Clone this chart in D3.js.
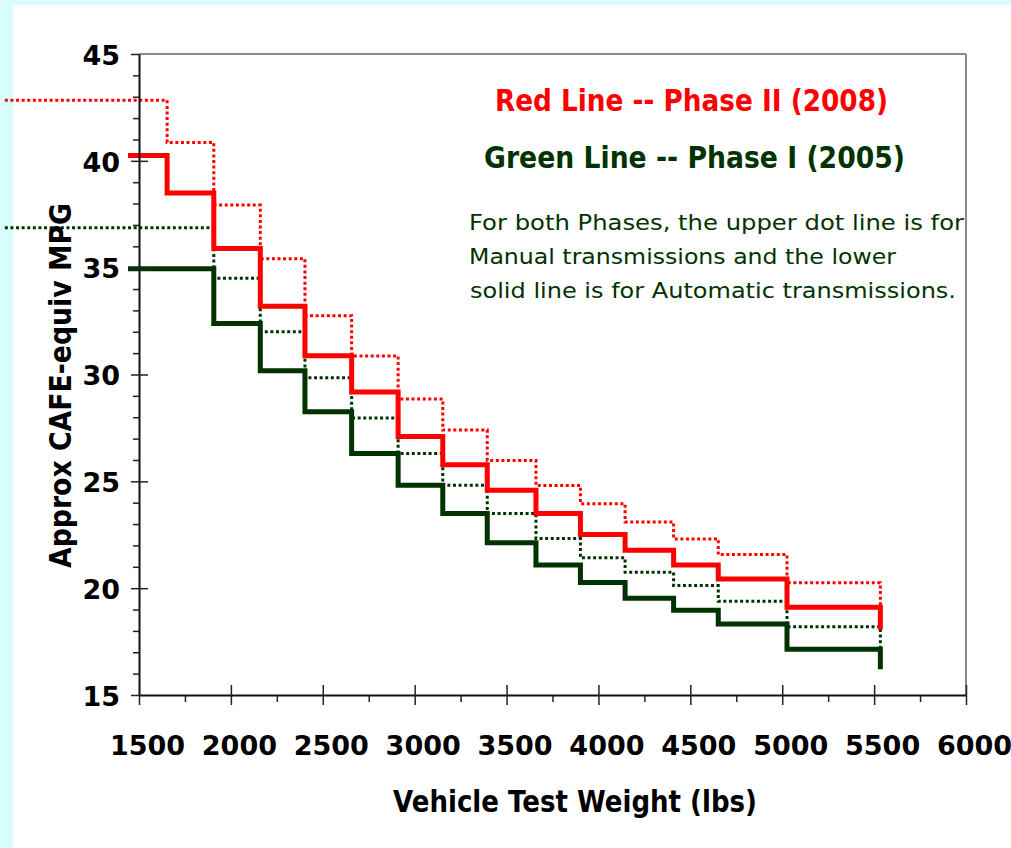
<!DOCTYPE html>
<html><head><meta charset="utf-8">
<script src="https://cdn.jsdelivr.net/npm/d3@7"></script>
<style>body{margin:0;background:#fff}svg{display:block}</style>
</head><body><svg id="c" width="1011" height="848"></svg>
<script>
// ---- data ----
const stepWeights = [1653, 1907, 2160, 2403, 2657, 2910, 3153, 3395, 3660, 3902, 4145, 4409, 4652, 5026, 5534];
const manualStart = 770;   // dotted lines begin left of the axis
const autoStart = 1440;    // solid lines begin just left of the axis
const phase2Manual = [42.84, 40.86, 37.93, 35.42, 32.75, 30.87, 28.85, 27.40, 25.98, 24.80, 23.95, 23.10, 22.30, 21.57, 20.25, 19.10];
const phase2Auto   = [40.25, 38.50, 35.90, 33.20, 30.88, 29.18, 27.10, 25.78, 24.58, 23.50, 22.51, 21.77, 21.08, 20.43, 19.11, 18.07];
const phase1Manual = [36.87, 36.87, 34.50, 32.00, 29.85, 27.96, 26.30, 24.82, 23.50, 22.32, 21.42, 20.75, 20.12, 19.39, 18.20, 17.15];
const phase1Auto   = [34.95, 34.95, 32.39, 30.18, 28.26, 26.30, 24.82, 23.50, 22.13, 21.08, 20.27, 19.53, 18.97, 18.32, 17.14, 16.20];
const xMajor = [1500, 2000, 2500, 3000, 3500, 4000, 4500, 5000, 5500, 6000];
const xMinor = [1750, 2250, 2750, 3250, 3750, 4250, 4750, 5250, 5750];
const yMajor = [15, 20, 25, 30, 35, 40, 45];
const yMinor = [16,17,18,19,21,22,23,24,26,27,28,29,31,32,33,34,36,37,38,39,41,42,43,44];
const xTitle = "Vehicle Test Weight (lbs)";
const yTitle = "Approx CAFE-equiv MPG";
const legendRed = "Red Line -- Phase II (2008)";
const legendGreen = "Green Line -- Phase I (2005)";
const noteLines = ["For both Phases, the upper dot line is for", "Manual transmissions and the lower", "solid line is for Automatic transmissions."];

const RED = "#ff0000", GREEN = "#003300";
const FONT = "'DejaVu Sans', Verdana, sans-serif";

const svg = d3.select("#c");
svg.append("rect").attr("width", 1011).attr("height", 848).attr("fill", "#d9fdfd");
svg.append("rect").attr("x", 13).attr("y", 5).attr("width", 998).attr("height", 843).attr("fill", "#fff");

const x = d3.scaleLinear().domain([1500, 6000]).range([139, 966]);
const y = d3.scaleLinear().domain([15, 45]).range([695, 54]);

// frame (top & right, gray)
svg.append("line").attr("x1", x(1500)).attr("x2", x(6000)).attr("y1", y(45)).attr("y2", y(45))
  .attr("stroke", "#8c8c8c").attr("stroke-width", 2);
svg.append("line").attr("x1", x(6000)).attr("x2", x(6000)).attr("y1", y(45)).attr("y2", y(15))
  .attr("stroke", "#8c8c8c").attr("stroke-width", 2);

// step lines
const line = d3.line().x(d => x(d.w)).y(d => y(d.v)).curve(d3.curveStepAfter);
function pts(start, vals) {
  return [{w: start, v: vals[0]}].concat(stepWeights.map((w, i) => ({w: w, v: vals[i + 1]})));
}
const series = [
  {vals: phase1Manual, start: manualStart, color: GREEN, w: 3, dash: "3,2.6"},
  {vals: phase2Manual, start: manualStart, color: RED, w: 3, dash: "3,2.6"},
  {vals: phase1Auto, start: autoStart, color: GREEN, w: 5, dash: null},
  {vals: phase2Auto, start: autoStart, color: RED, w: 5, dash: null}
];
series.forEach(s => {
  svg.append("path").attr("d", line(pts(s.start, s.vals)))
    .attr("fill", "none").attr("stroke", s.color).attr("stroke-width", s.w)
    .attr("stroke-dasharray", s.dash).attr("stroke-linejoin", "miter");
});

// axes
function styleTicks(g) {
  g.selectAll(".tick line").attr("stroke", "#222").attr("stroke-width", 1.5);
}
const gY = svg.append("g").attr("transform", `translate(${x(1500)},0)`)
  .call(d3.axisLeft(y).tickValues(yMajor).tickSize(8).tickSizeOuter(0).tickPadding(11).tickFormat(d3.format("d")));
gY.select(".domain").attr("stroke", "#111").attr("stroke-width", 2);
styleTicks(gY);
gY.selectAll("text").attr("font-family", FONT).attr("font-weight", "bold").attr("font-size", 27)
  .attr("fill", "#000").attr("dy", "0.38em");
const gYin = svg.append("g").attr("transform", `translate(${x(1500)},0)`)
  .call(d3.axisRight(y).tickValues(yMajor.slice(1, -1)).tickSize(9).tickFormat(""));
gYin.select(".domain").remove(); styleTicks(gYin);
const gYm = svg.append("g").attr("transform", `translate(${x(1500)},0)`)
  .call(d3.axisLeft(y).tickValues(yMinor).tickSize(6).tickFormat(""));
gYm.select(".domain").remove(); styleTicks(gYm);

const gX = svg.append("g").attr("transform", `translate(0,${y(15)})`)
  .call(d3.axisBottom(x).tickValues(xMajor).tickSize(10).tickSizeOuter(0).tickFormat(d3.format("d")));
gX.select(".domain").attr("stroke", "#111").attr("stroke-width", 2);
styleTicks(gX);
gX.selectAll("text").attr("font-family", FONT).attr("font-weight", "bold").attr("font-size", 27)
  .attr("fill", "#000").attr("y", 60).attr("dy", 0).attr("x", 8);
const gXin = svg.append("g").attr("transform", `translate(0,${y(15)})`)
  .call(d3.axisTop(x).tickValues(xMajor.slice(1)).tickSize(10).tickFormat(""));
gXin.select(".domain").remove(); styleTicks(gXin);
const gXm = svg.append("g").attr("transform", `translate(0,${y(15)})`)
  .call(d3.axisBottom(x).tickValues(xMinor).tickSize(7).tickFormat(""));
gXm.select(".domain").remove(); styleTicks(gXm);

// titles
svg.append("text").attr("x", 575).attr("y", 812).attr("text-anchor", "middle")
  .attr("font-family", FONT).attr("font-weight", "bold").attr("font-size", 30)
  .attr("textLength", 364).attr("lengthAdjust", "spacingAndGlyphs").text(xTitle);
svg.append("text").attr("transform", "translate(71,385.5) rotate(-90)").attr("text-anchor", "middle")
  .attr("font-family", FONT).attr("font-weight", "bold").attr("font-size", 30)
  .attr("textLength", 365).attr("lengthAdjust", "spacingAndGlyphs").text(yTitle);

// legend texts
svg.append("text").attr("x", 495).attr("y", 111).attr("fill", RED)
  .attr("font-family", FONT).attr("font-weight", "bold").attr("font-size", 31)
  .attr("textLength", 393).attr("lengthAdjust", "spacingAndGlyphs").text(legendRed);
svg.append("text").attr("x", 484).attr("y", 168).attr("fill", GREEN)
  .attr("font-family", FONT).attr("font-weight", "bold").attr("font-size", 31)
  .attr("textLength", 421).attr("lengthAdjust", "spacingAndGlyphs").text(legendGreen);
const noteX = [469, 469, 470], noteY = [230, 264, 298], noteW = [495, 427, 486];
noteLines.forEach((t, i) => {
  svg.append("text").attr("x", noteX[i]).attr("y", noteY[i]).attr("fill", GREEN)
    .attr("font-family", FONT).attr("font-size", 22)
    .attr("textLength", noteW[i]).attr("lengthAdjust", "spacingAndGlyphs").text(t);
});
</script>
</body></html>
